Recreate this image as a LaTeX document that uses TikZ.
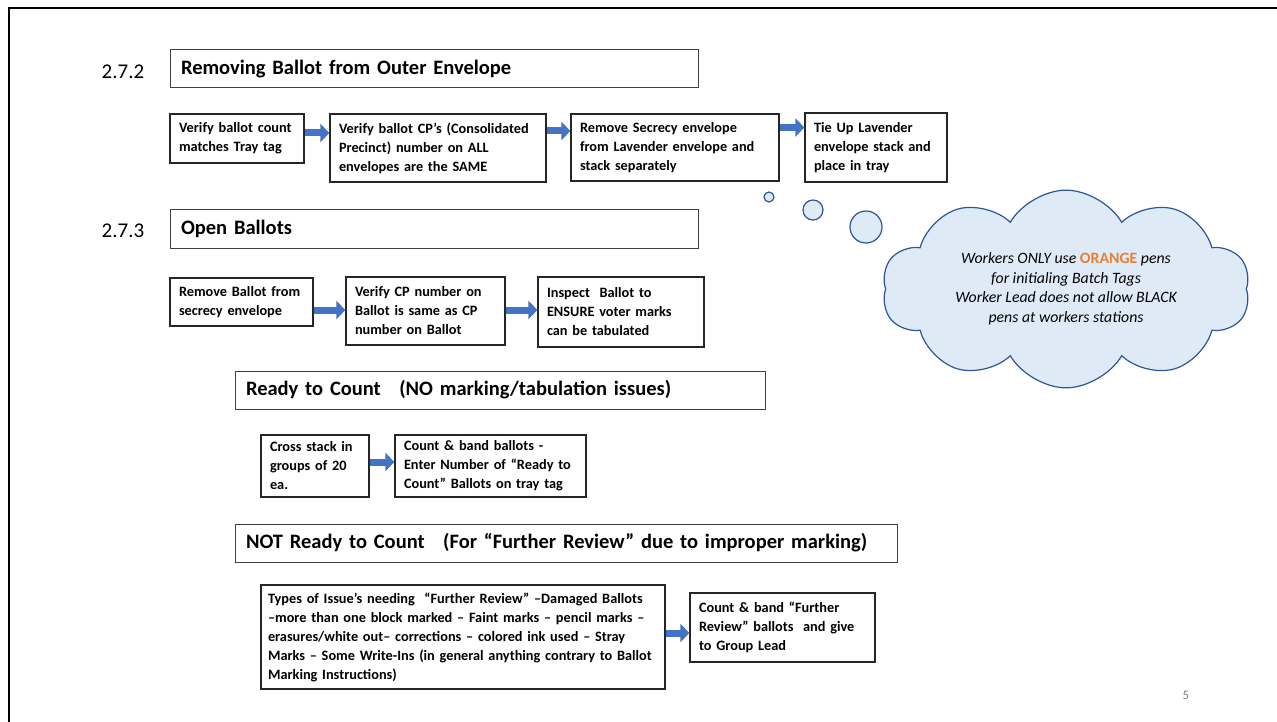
\documentclass[tikz,border=0pt]{standalone}
\usepackage{fontspec}
\setmainfont{Carlito}
\usetikzlibrary{arrows.meta,shapes.symbols}
\definecolor{arrowblue}{HTML}{4472C4}
\definecolor{cloudfill}{HTML}{DEEBF7}
\definecolor{clouddraw}{HTML}{2F5597}
\definecolor{penorange}{HTML}{ED7D31}
\begin{document}
\begin{tikzpicture}[x=1pt,y=-1pt,
			stepbox/.style={draw=black!85, line width=1.2pt, align=left, inner xsep=9pt, inner ysep=3pt,
				font=\bfseries\fontsize{14.3}{19}\selectfont},
			headbox/.style={draw=black!75, line width=1pt, align=left, inner xsep=11pt, minimum height=38pt,
				font=\bfseries\fontsize{20.5}{22}\selectfont},
			secnum/.style={font=\fontsize{21}{22}\selectfont},
			flow/.style={line width=7pt, draw=arrowblue, -{Triangle[length=9pt,width=18pt]}},
			bubble/.style={circle, draw=clouddraw, fill=cloudfill, line width=1.2pt, inner sep=0pt},
			]
			\useasboundingbox (0,0) rectangle (1277,722);
			\draw[line width=2pt] (9,722) -- (9,8.5) -- (1277,8.5);
			% 2.7.2
			\node[secnum] at (123,72) (num1) {2.7.2};
			\node[headbox, text width=506pt] at (434,69) (head1) {Removing Ballot from Outer Envelope};
			\node[stepbox, text width=116pt, minimum height=49pt] at (237,138.5) (count) {Verify ballot count\\matches Tray tag};
			\node[stepbox, text width=198pt, minimum height=68pt] at (438,148) (precinct) {Verify ballot CP’s (Consolidated\\Precinct) number on ALL\\envelopes are the SAME};
			\node[stepbox, text width=190pt, minimum height=67pt] at (675,147.5) (secrecy) {Remove Secrecy envelope\\from Lavender envelope and\\stack separately};
			\node[stepbox, text width=124pt, minimum height=69pt] at (876,147.5) (tieup) {Tie Up Lavender\\envelope stack and\\place in tray};
			% 2.7.3
			\node[secnum] at (123,231) (num2) {2.7.3};
			\node[headbox, text width=506pt] at (434,229) (head2) {Open Ballots};
			\node[stepbox, text width=125pt, minimum height=48pt] at (241.5,302) (remove) {Remove Ballot from\\secrecy envelope};
			\node[stepbox, text width=141pt, minimum height=68pt] at (425.5,311) (cpnum) {Verify CP number on\\Ballot is same as CP\\number on Ballot};
			\node[stepbox, text width=148pt, minimum height=70pt] at (621,312) (inspect) {Inspect~ Ballot to\\ENSURE voter marks\\can be tabulated};
			% ready / not ready
			\node[headbox, text width=508pt] at (500,390) (ready) {Ready to Count\hspace{0.9em}(NO marking/tabulation issues)};
			\node[stepbox, text width=90pt, minimum height=62pt] at (315,466) (cross) {Cross stack in\\groups of 20\\ea.};
			\node[stepbox, text width=173pt, minimum height=62pt] at (490.5,466) (band) {Count \& band ballots -\\Enter Number of “Ready to\\Count” Ballots on tray tag};
			\node[headbox, text width=640pt] at (566,543) (notready) {NOT Ready to Count\hspace{0.9em}(For “Further Review” due to improper marking)};
			\node[stepbox, text width=390pt, inner xsep=7pt, minimum height=104pt] at (463,637) (issues) {Types of Issue’s needing~ “Further Review” –Damaged Ballots\\–more than one block marked – Faint marks – pencil marks –\\erasures/white out– corrections – colored ink used – Stray\\Marks – Some Write-Ins (in general anything contrary to Ballot\\Marking Instructions)};
			\node[stepbox, text width=167pt, minimum height=69pt] at (782.5,627.5) (review) {Count \& band “Further\\Review” ballots~ and give\\to Group Lead};
			% thought cloud
			\node[bubble, minimum size=10pt] at (769,197) (bub1) {};
			\node[bubble, minimum size=20pt] at (813,210) (bub2) {};
			\node[bubble, minimum size=32pt] at (866,227) (bub3) {};
			\node[cloud, cloud puffs=10, cloud puff arc=120, aspect=2.1, draw=clouddraw, fill=cloudfill, line width=1.2pt,
				minimum width=368pt, minimum height=178pt, inner sep=0pt, align=center,
				font=\itshape\fontsize{15.8}{19.5}\selectfont] at (1066,289) (note)
				{Workers ONLY use {\upshape\bfseries\color{penorange}ORANGE} pens\\for initialing Batch Tags\\Worker Lead does not allow BLACK\\pens at workers stations};
			\node[text=black!50, font=\fontsize{13}{14}\selectfont] at (1186,695) (page) {5};
			\draw[flow] ([yshift=5.5pt]count.east) -- ([yshift=5.5pt]count.east -| precinct.west);
			\draw[flow] ([yshift=17pt]precinct.east) -- ([yshift=17pt]precinct.east -| secrecy.west);
			\draw[flow] ([yshift=20pt]secrecy.east) -- ([yshift=20pt]secrecy.east -| tieup.west);
			\draw[flow] ([yshift=-8pt]remove.east) -- ([yshift=-8pt]remove.east -| cpnum.west);
			\draw[flow] ([yshift=1pt]cpnum.east) -- ([yshift=1pt]cpnum.east -| inspect.west);
			\draw[flow] ([yshift=4pt]cross.east) -- ([yshift=4pt]cross.east -| band.west);
			\draw[flow] ([yshift=4pt]issues.east) -- ([yshift=4pt]issues.east -| review.west);
		\end{tikzpicture}
\end{document}
